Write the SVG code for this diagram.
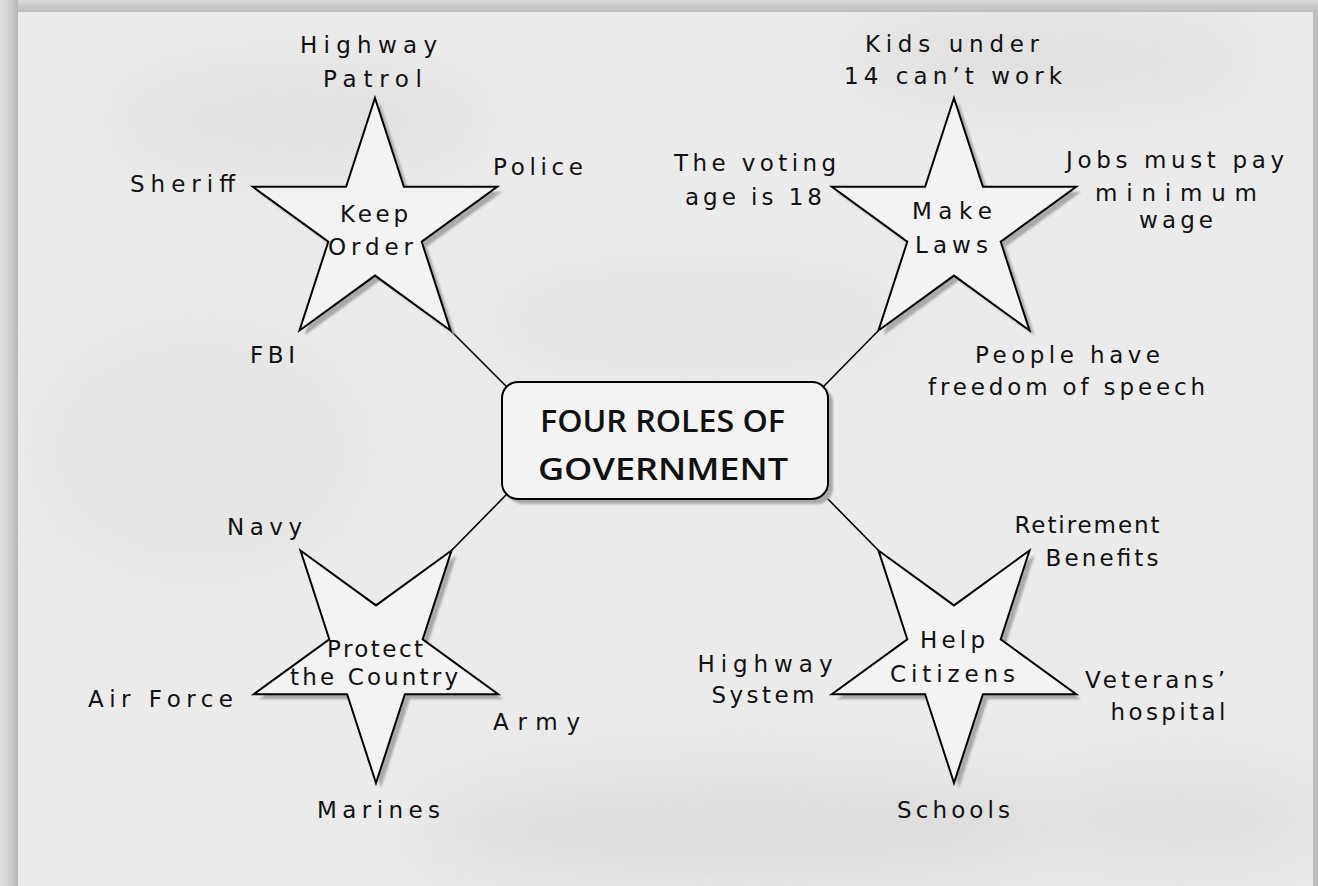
<svg xmlns="http://www.w3.org/2000/svg" width="1318" height="886" viewBox="0 0 1318 886">
<defs>
<style>
.lbl{font-family:"DejaVu Sans","Liberation Sans",sans-serif;font-size:23px;fill:#111;text-anchor:middle}
.ttl{font-family:"Open Sans","DejaVu Sans",sans-serif;font-size:30px;font-weight:600;fill:#111;text-anchor:middle}
.shape{fill:#f3f3f3;stroke:#000;stroke-width:2;stroke-linejoin:miter}
.shadow{fill:#a9a9a9}
.conn{stroke:#000;stroke-width:1.6;fill:none}
</style>
<path id="star" d="M0,-128.5 L28.9,-39.7 L122.2,-39.7 L46.7,15.2 L75.5,104 L0,49.1 L-75.5,104 L-46.7,15.2 L-122.2,-39.7 L-28.9,-39.7 Z"/>
<linearGradient id="gl" x1="0" y1="0" x2="1" y2="0">
<stop offset="0" stop-color="#e2e2e2"/><stop offset="0.7" stop-color="#c9c9c9"/><stop offset="1" stop-color="#b4b4b4"/>
</linearGradient>
<linearGradient id="gt" x1="0" y1="0" x2="0" y2="1">
<stop offset="0" stop-color="#d9d9d9"/><stop offset="1" stop-color="#bdbdbd"/>
</linearGradient>
<filter id="blur" x="-50%" y="-50%" width="200%" height="200%"><feGaussianBlur stdDeviation="30"/></filter>
<filter id="sblur"><feGaussianBlur stdDeviation="1"/></filter>
</defs>
<g id="background">
<rect x="0" y="0" width="1318" height="886" fill="#c8c8c8"/>
<rect x="18" y="12" width="1295" height="874" fill="#ebebeb"/>
<g filter="url(#blur)" opacity="0.5">
<ellipse cx="300" cy="120" rx="180" ry="50" fill="#d6d6d6"/>
<ellipse cx="1050" cy="60" rx="200" ry="40" fill="#d4d4d4"/>
<ellipse cx="750" cy="830" rx="330" ry="60" fill="#cfcfcf"/>
<ellipse cx="1180" cy="820" rx="150" ry="50" fill="#d2d2d2"/>
<ellipse cx="700" cy="320" rx="200" ry="40" fill="#dadada"/>
<ellipse cx="200" cy="450" rx="160" ry="120" fill="#e0e0e0"/>
</g>
<rect x="0" y="0" width="18" height="886" fill="url(#gl)"/>
<rect x="18" y="0" width="1300" height="12" fill="url(#gt)"/>
<rect x="1313" y="12" width="5" height="874" fill="#bdbdbd"/>
</g>
<g id="connectors">
<line class="conn" x1="450.5" y1="330.5" x2="506.7" y2="386.7"/>
<line class="conn" x1="878.5" y1="330.5" x2="823.3" y2="386.7"/>
<line class="conn" x1="451.5" y1="550.5" x2="506.7" y2="494.3"/>
<line class="conn" x1="878.5" y1="550.5" x2="823.3" y2="494.3"/>
</g>
<g id="center">
<rect class="shadow" x="507" y="387" width="326" height="117" rx="16" filter="url(#sblur)"/>
<rect class="shape" x="502" y="382" width="326" height="117" rx="16"/>
<text class="ttl" x="662.5" y="432" textLength="245" lengthAdjust="spacingAndGlyphs">FOUR ROLES OF</text>
<text class="ttl" x="663" y="480" textLength="250" lengthAdjust="spacingAndGlyphs">GOVERNMENT</text>
</g>
<g id="keep-order">
<use href="#star" class="shadow" transform="translate(380,231.5)" filter="url(#sblur)"/>
<use href="#star" class="shape" transform="translate(375,226.5)"/>
<text class="lbl" x="374" y="222" textLength="68">Keep</text>
<text class="lbl" x="370.5" y="255" textLength="85">Order</text>
<text class="lbl" x="368.5" y="53" textLength="137">Highway</text>
<text class="lbl" x="372.5" y="87" textLength="99">Patrol</text>
<text class="lbl" x="182.5" y="192" textLength="105">Sheriff</text>
<text class="lbl" x="538" y="175" textLength="90">Police</text>
<text class="lbl" x="272.5" y="363" textLength="45">FBI</text>
</g>
<g id="make-laws">
<use href="#star" class="shadow" transform="translate(959,231.5)" filter="url(#sblur)"/>
<use href="#star" class="shape" transform="translate(954,226.5)"/>
<text class="lbl" x="952" y="219" textLength="80">Make</text>
<text class="lbl" x="951.5" y="253" textLength="73">Laws</text>
<text class="lbl" x="952" y="52" textLength="174">Kids under</text>
<text class="lbl" x="953" y="84" textLength="218">14 can’t work</text>
<text class="lbl" x="755" y="171" textLength="162">The voting</text>
<text class="lbl" x="753.5" y="205" textLength="137">age is 18</text>
<text class="lbl" x="1175" y="168" textLength="218">Jobs must pay</text>
<text class="lbl" x="1176" y="201" textLength="162">minimum</text>
<text class="lbl" x="1176" y="228" textLength="74">wage</text>
<text class="lbl" x="1067.5" y="363" textLength="185">People have</text>
<text class="lbl" x="1066.5" y="395" textLength="277">freedom of speech</text>
</g>
<g id="protect-country">
<use href="#star" class="shadow" transform="translate(381,659.5) scale(1,-1)" filter="url(#sblur)"/>
<use href="#star" class="shape" transform="translate(376,654.5) scale(1,-1)"/>
<text class="lbl" x="375" y="657" textLength="96">Protect</text>
<text class="lbl" x="374" y="685" textLength="168">the Country</text>
<text class="lbl" x="264.5" y="535" textLength="75">Navy</text>
<text class="lbl" x="160.5" y="707" textLength="145">Air Force</text>
<text class="lbl" x="536.5" y="730" textLength="87">Army</text>
<text class="lbl" x="378.5" y="818" textLength="123">Marines</text>
</g>
<g id="help-citizens">
<use href="#star" class="shadow" transform="translate(959,659.5) scale(1,-1)" filter="url(#sblur)"/>
<use href="#star" class="shape" transform="translate(954,654.5) scale(1,-1)"/>
<text class="lbl" x="952.5" y="648" textLength="65">Help</text>
<text class="lbl" x="952.5" y="682" textLength="125">Citizens</text>
<text class="lbl" x="1087" y="533" textLength="145">Retirement</text>
<text class="lbl" x="1102" y="566" textLength="113">Benefits</text>
<text class="lbl" x="765" y="672" textLength="135">Highway</text>
<text class="lbl" x="763" y="703" textLength="103">System</text>
<text class="lbl" x="1155" y="688" textLength="140">Veterans’</text>
<text class="lbl" x="1168" y="720" textLength="115">hospital</text>
<text class="lbl" x="953.5" y="818" textLength="113">Schools</text>
</g>
</svg>
